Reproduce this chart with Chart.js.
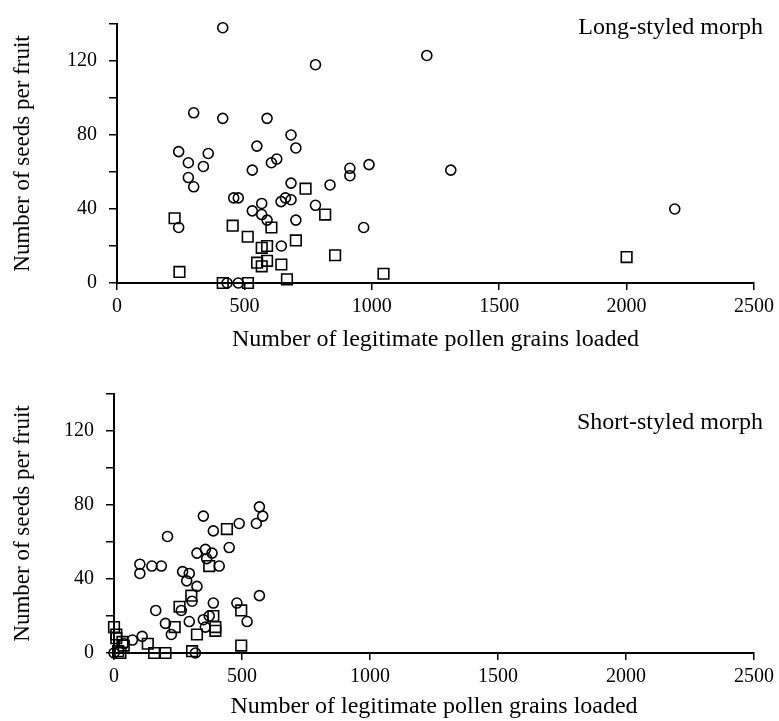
<!DOCTYPE html>
<html>
<head>
<meta charset="utf-8">
<script src="https://cdn.jsdelivr.net/npm/chart.js@4.4.0/dist/chart.umd.min.js"></script>
<style>
  body { margin: 0; background: #fff; width: 779px; height: 721px; overflow: hidden; position: relative; }
  canvas { position: absolute; left: 0; }
  #panelLong { top: 0; }
  #panelShort { top: 370px; }
</style>
</head>
<body>
<canvas id="panelLong" width="779" height="360"></canvas>
<canvas id="panelShort" width="779" height="351"></canvas>
<script>
// ejes compartidos
const xTicks = [0, 500, 1000, 1500, 2000, 2500];
const yTickLabels = [0, 40, 80, 120];

// Long-styled morph: circulos y cuadrados (pollen, seeds)
const longCircX = [415, 1216, 779, 301, 415, 589, 683, 242, 358, 549, 702, 280, 339, 627, 606, 531, 914, 914, 989, 280,
  301, 683, 836, 458, 476, 661, 683, 644, 568, 779, 531, 568, 589, 702, 242, 968, 645, 432, 476, 1310, 2189];
const longCircY = [138, 123, 118, 92, 89, 89, 80, 71, 70, 74, 73, 65, 63, 67, 65, 61, 62, 58, 64, 57,
  52, 54, 53, 46, 46, 46, 45, 44, 43, 42, 39, 37, 34, 34, 30, 30, 20, 0, 0, 61, 40];
const longSqX = [226, 245, 454, 513, 568, 589, 606, 550, 568, 589, 645, 667, 702, 740, 817, 856, 1046, 415, 514, 2000];
const longSqY = [35, 6, 31, 25, 19, 20, 30, 11, 9, 12, 10, 2, 23, 51, 37, 15, 5, 0, 0, 14];

// Short-styled morph
const shortCircX = [349, 568, 581, 556, 489, 388, 209, 450, 324, 357, 383, 362, 411, 101, 101, 148, 185, 268, 294, 284,
  324, 305, 388, 480, 568, 163, 263, 201, 294, 349, 357, 520, 224, 110, 72, 372, 40, 0, 318];
const shortCircY = [74, 79, 74, 70, 70, 66, 63, 57, 54, 56, 54, 51, 47, 48, 43, 47, 47, 44, 43, 39,
  36, 28, 27, 27, 31, 23, 23, 16, 17, 18, 14, 17, 10, 9, 7, 20, 5, 0, 0];
const shortSqX = [441, 372, 302, 256, 388, 497, 237, 324, 396, 396, 132, 157, 201, 305, 497, 0, 9, 9, 33, 38, 25, 16];
const shortSqY = [67, 47, 31, 25, 20, 23, 14, 10, 14, 12, 5, 0, 0, 1, 4, 14, 10, 8, 6, 4, 0, 1];

Chart.defaults.font.family = '"Liberation Serif", "Times New Roman", serif';
Chart.defaults.color = '#000';

// texto del panel (Long-styled / Short-styled)
const panelLabel = {
  id: 'panelLabel',
  afterDraw(chart, args, opts) {
    const ctx = chart.ctx;
    ctx.save();
    ctx.font = '24px "Liberation Serif"';
    ctx.fillStyle = '#000';
    ctx.textAlign = 'right';
    ctx.textBaseline = 'middle';
    ctx.fillText(opts.text, opts.x, opts.y);
    ctx.restore();
  }
};

function toPoints(xs, ys) {
  return xs.map((x, i) => ({ x: x, y: ys[i] }));
}

function drawPanel(id, circX, circY, sqX, sqY, box) {
  const ctx = document.getElementById(id).getContext('2d');
  return new Chart(ctx, {
    type: 'scatter',
    data: {
      datasets: [
        {
          label: 'circulos',
          data: toPoints(circX, circY),
          pointStyle: 'circle',
          pointRadius: 5,
          pointHoverRadius: 5,
          borderColor: '#000',
          backgroundColor: 'rgba(0,0,0,0)',
          borderWidth: 1.6,
          clip: false
        },
        {
          label: 'cuadrados',
          data: toPoints(sqX, sqY),
          pointStyle: 'rect',
          pointRadius: 7.5,
          pointHoverRadius: 7.5,
          borderColor: '#000',
          backgroundColor: 'rgba(0,0,0,0)',
          borderWidth: 1.6,
          clip: false
        }
      ]
    },
    options: {
      responsive: false,
      animation: false,
      events: [],
      layout: { padding: { top: box.top, right: box.right, left: 0, bottom: 0 } },
      plugins: {
        legend: { display: false },
        tooltip: { enabled: false },
        panelLabel: { text: box.label, x: 763, y: box.labelY }
      },
      scales: {
        x: {
          type: 'linear',
          min: 0,
          max: 2500,
          afterFit: s => { s.height = box.xHeight; },
          afterBuildTicks: s => { s.ticks = xTicks.map(v => ({ value: v })); },
          ticks: { font: { size: 20 }, padding: 5, maxRotation: 0, callback: v => String(v) },
          grid: { drawOnChartArea: false, tickLength: 7, color: '#000', lineWidth: 1.5 },
          border: { color: '#000', width: 2 },
          title: {
            display: true,
            text: 'Number of legitimate pollen grains loaded',
            font: { size: 24 },
            padding: { top: 0, bottom: box.xTitlePad }
          }
        },
        y: {
          type: 'linear',
          min: 0,
          max: 140,
          afterFit: s => { s.width = box.left; },
          ticks: {
            stepSize: 20,
            font: { size: 20 },
            padding: 12,
            callback: v => yTickLabels.includes(v) ? String(v) : ''
          },
          grid: { drawOnChartArea: false, tickLength: 8, color: '#000', lineWidth: 1.5 },
          border: { color: '#000', width: 2 },
          title: {
            display: true,
            text: 'Number of seeds per fruit',
            font: { size: 23 },
            padding: { top: 9, bottom: 0 }
          }
        }
      }
    },
    plugins: [panelLabel]
  });
}

drawPanel('panelLong', longCircX, longCircY, longSqX, longSqY,
  { top: 14, right: 20, left: 117, xHeight: 77, xTitlePad: 6, label: 'Long-styled morph', labelY: 28 });
drawPanel('panelShort', shortCircX, shortCircY, shortSqX, shortSqY,
  { top: 12, right: 22, left: 114, xHeight: 68, xTitlePad: 0, label: 'Short-styled morph', labelY: 53 });
</script>
</body>
</html>
